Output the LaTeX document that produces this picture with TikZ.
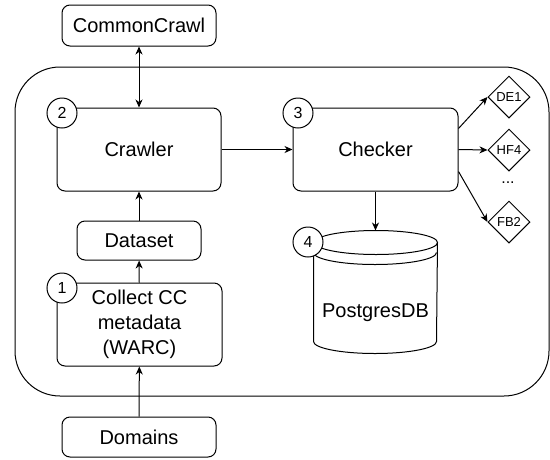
\documentclass[tikz,border=0pt]{standalone}
\usepackage{fontspec}
\setmainfont{Liberation Sans}
\usetikzlibrary{arrows.meta,shapes.geometric}

\begin{document}
\begin{tikzpicture}[x=1pt,y=-1pt,line width=1pt,
    box/.style={draw,rounded corners=8pt,inner sep=0pt,align=center,
      font=\fontsize{20}{25}\selectfont},
    num/.style={draw,circle,fill=white,minimum size=30pt,inner sep=0pt,
      font=\fontsize{16}{18}\selectfont},
    flag/.style={draw,diamond,minimum size=42pt,inner sep=0pt,
      font=\fontsize{13}{15}\selectfont},
    >={Stealth[length=8pt,width=7pt,inset=2.5pt]}]
  \useasboundingbox (0,0) rectangle (550,459);
  % system frame
  \node[draw,rounded corners=45pt,minimum width=534pt,minimum height=329pt] (sys) at (282,231.5) {};

  \node[box,minimum width=154pt,minimum height=41pt] (cc) at (139,25.5) {CommonCrawl};
  \node[box,minimum width=164pt,minimum height=83pt] (crawler) at (139,149.5) {Crawler};
  \node[box,minimum width=124pt,minimum height=39pt] (dataset) at (139,240.5) {Dataset};
  \node[box,minimum width=165pt,minimum height=83pt] (collect) at (139.5,324.5) {Collect CC\\metadata\\(WARC)};
  \node[box,minimum width=154pt,minimum height=40pt] (domains) at (139,437) {Domains};
  \node[box,minimum width=165pt,minimum height=83pt] (checker) at (375.5,149.5) {Checker};

  % database
  \node[minimum width=123pt,minimum height=122pt,inner sep=0pt] (db) at (375.5,292) {};
  \draw ([yshift=-12pt]db.north west) -- ([yshift=12pt]db.south west)
    arc[start angle=180,end angle=360,x radius=61.5pt,y radius=12pt]
    -- ([yshift=-12pt]db.north east)
    arc[start angle=0,end angle=180,x radius=61.5pt,y radius=12pt]
    arc[start angle=180,end angle=360,x radius=61.5pt,y radius=12pt];
  \draw ([yshift=-22pt]db.north west)
    arc[start angle=180,end angle=360,x radius=61.5pt,y radius=12pt];
  \node[font=\fontsize{20}{25}\selectfont] (dbl) at (375.5,313) {PostgresDB};

  \node[flag] (de1) at (509,97) {DE1};
  \node[flag] (hf4) at (509,150) {HF4};
  \node[font=\fontsize{16}{18}\selectfont] (dots) at (508,183) {...};
  \node[flag] (fb2) at (509,222) {FB2};

  \node[num] (n2) at (62,113) {2};
  \node[num] (n3) at (298,113) {3};
  \node[num] (n4) at (308,242) {4};
  \node[num] (n1) at (62,288) {1};

  \draw[<->] (cc) -- (crawler);
  \draw[->] (dataset) -- (crawler);
  \draw[->] (collect) -- (dataset);
  \draw[->] (domains) -- (collect);
  \draw[->] (crawler) -- (checker);
  \draw[->] (checker) -- (db.north);
  \draw[->] ([yshift=21pt]checker.east) -- (de1.west);
  \draw[->] (checker.east) -- (hf4.west);
  \draw[->] ([yshift=-22pt]checker.east) -- (fb2.west);
\end{tikzpicture}
\end{document}
